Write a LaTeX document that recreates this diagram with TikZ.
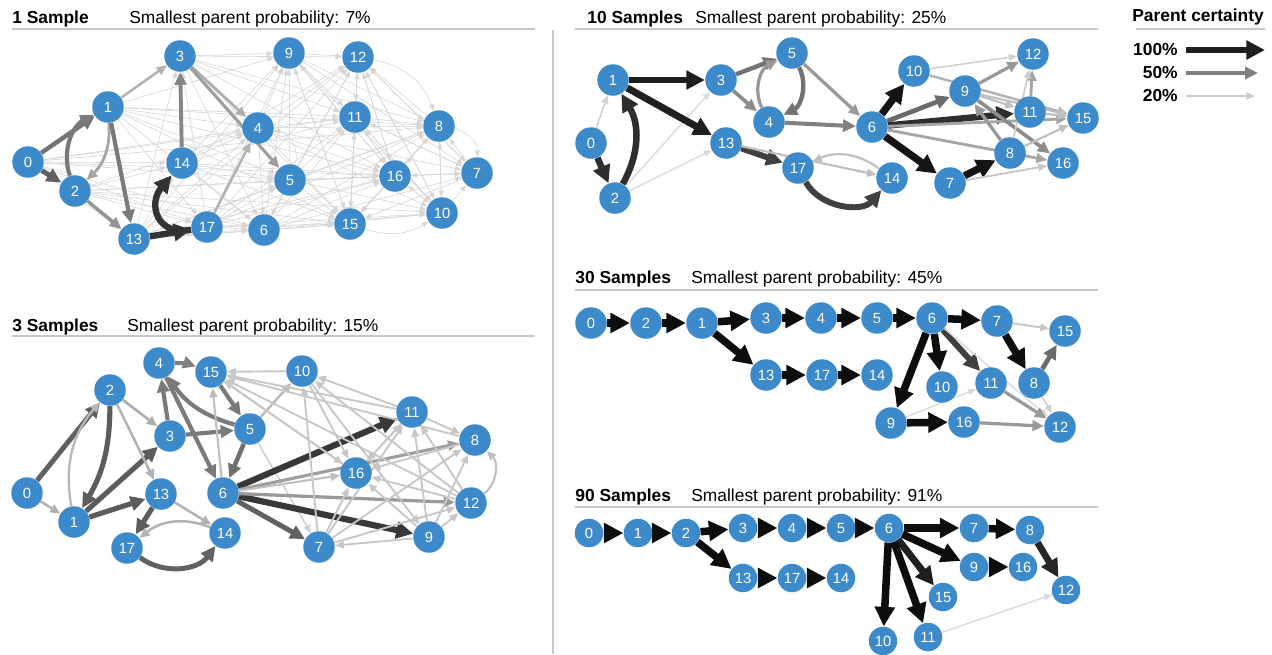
\documentclass[tikz,border=0pt]{standalone}
\usepackage{fontspec}
\setmainfont{Liberation Sans}
\usetikzlibrary{arrows.meta,positioning,backgrounds}
\definecolor{nodeblue}{RGB}{61,138,202}
\definecolor{rulegray}{RGB}{200,200,200}
\tikzset{
  var/.style       = {circle, fill=nodeblue, text=white, inner sep=0pt, minimum size=0.63cm, font=\fontsize{8.4}{9}\selectfont},
  varsmall/.style  = {var, minimum size=0.57cm},
  cert/.style      = {draw=black!#1, line width=0.1pt+0.044pt*#1, -{Triangle[length=3pt 1.9, width=2pt 2.1]}},
  faint/.style     = {draw=black!16, line width=0.35pt, -{Triangle[length=3.6pt, width=2.8pt]}},
  paneltitle/.style = {anchor=base west, inner sep=0pt, font=\fontsize{9.9}{11}\selectfont\bfseries},
  probtext/.style  = {anchor=base west, inner sep=0pt, font=\fontsize{9.9}{11}\selectfont},
  hrule/.style     = {rulegray, line width=0.8pt}
}

\begin{document}
\begin{tikzpicture}[x=0.02cm, y=-0.02cm]
  \useasboundingbox (0,0) rectangle (1272,654);
  % Separator
  \draw[hrule] (553,30) -- (553,654);

  % Headers
  \node[paneltitle] (t1) at (12,23) {1 Sample};
  \node[probtext] (p1) at (129,23) {Smallest parent probability: 7\%};
  \draw[hrule] (12,29) -- (535,29);
  \node[paneltitle] (t3) at (12,331) {3 Samples};
  \node[probtext] (p3) at (127,331) {Smallest parent probability: 15\%};
  \draw[hrule] (12,336) -- (535,336);
  \node[paneltitle] (t10) at (587,23) {10 Samples};
  \node[probtext] (p10) at (695,23) {Smallest parent probability: 25\%};
  \draw[hrule] (575,29) -- (1098,29);
  \node[paneltitle] (t30) at (575,283) {30 Samples};
  \node[probtext] (p30) at (691,283) {Smallest parent probability: 45\%};
  \draw[hrule] (575,290) -- (1098,290);
  \node[paneltitle] (t90) at (575,501) {90 Samples};
  \node[probtext] (p90) at (691,501) {Smallest parent probability: 91\%};
  \draw[hrule] (575,507) -- (1098,507);

  % Legend
  \node[paneltitle] (lt) at (1132,21) {Parent certainty};
  \draw[hrule] (1136,29) -- (1265,29);
  \node[paneltitle, anchor=base east] (l100) at (1178,55) {100\%};
  \node[paneltitle, anchor=base east] (l50) at (1178,78) {50\%};
  \node[paneltitle, anchor=base east] (l20) at (1178,101) {20\%};
  \coordinate (l100a) at (1186,50); \coordinate (l100b) at (1265,50);
  \coordinate (l50a) at (1186,73);  \coordinate (l50b) at (1258,73);
  \coordinate (l20a) at (1186,96);  \coordinate (l20b) at (1255,96);
  \draw[cert=88] (l100a) -- (l100b);
  \draw[cert=50] (l50a) -- (l50b);
  \draw[cert=20] (l20a) -- (l20b);

  % Variables, one set per panel
  \foreach \n/\x/\y in {0/28/162, 1/108/107, 2/75/191, 3/180/56, 4/258/128, 5/290/180,
      6/264/230, 7/477/173, 8/439/126, 9/289/53, 10/442/213, 11/355/117, 12/358/57,
      13/134/239, 14/182/163, 15/350/224, 16/395/176, 17/207/227}
    \node[var] (a\n) at (\x,\y) {\n};
  \foreach \n/\x/\y in {0/27/493, 1/74/522, 2/110/390, 3/170/436, 4/159/363, 5/250/429,
      6/223/493, 7/319/547, 8/475/440, 9/429/537, 10/302/371, 11/412/412, 12/471/503,
      13/161/494, 14/225/533, 15/211/372, 16/356/473, 17/127/548}
    \node[var] (b\n) at (\x,\y) {\n};
  \foreach \n/\x/\y in {0/591/143, 1/613/80, 2/615/198, 3/721/80, 4/769/122, 5/792/53,
      6/872/127, 7/950/183, 8/1010/153, 9/965/91, 10/914/71, 11/1030/112, 12/1033/54,
      13/726/143, 14/892/178, 15/1083/118, 16/1063/163, 17/798/168}
    \node[var] (c\n) at (\x,\y) {\n};
  \foreach \n/\x/\y in {0/591/323, 1/702/323, 2/646/323, 3/766/318, 4/821/318, 5/877/318,
      6/932/318, 7/997/321, 8/1034/383, 9/891/423, 10/942/387, 11/991/383, 12/1060/427,
      13/766/375, 14/877/375, 15/1065/331, 16/964/422, 17/822/375}
    \node[var] (d\n) at (\x,\y) {\n};
  \foreach \n/\x/\y in {0/589/533, 1/638/533, 2/686/533, 3/743/528, 4/792/528, 5/841/528,
      6/889/528, 7/974/528, 8/1030/530, 9/974/567, 10/883/641, 11/928/637, 12/1066/590,
      13/743/578, 14/841/578, 15/943/597, 16/1023/567, 17/792/578}
    \node[varsmall] (e\n) at (\x,\y) {\n};

  \begin{scope}[on background layer]
    % 1 sample: the dense faint web
    \foreach \s/\t in {0/3, 0/4, 0/5, 0/14, 0/17, 0/13, 0/16, 0/11, 0/8, 0/6,
        1/4, 1/5, 1/9, 1/11, 1/16, 1/15, 1/17, 1/6, 1/8,
        2/14, 2/17, 2/5, 2/16, 2/15, 2/6, 2/10, 2/4,
        13/3, 13/4, 13/5, 13/6, 13/9, 13/12, 13/15, 13/16, 13/8, 13/10, 13/14,
        17/3, 17/5, 17/9, 17/12, 17/11, 17/16, 17/15, 17/8, 17/6, 17/10,
        14/4, 14/5, 14/12, 14/9, 14/15, 14/16, 14/11, 14/6,
        3/9, 3/12, 3/11, 3/6, 3/15, 3/16, 3/8,
        4/9, 4/12, 4/11, 4/6, 4/15, 4/16, 4/7, 4/10, 4/8,
        5/9, 5/12, 5/11, 5/6, 5/15, 5/16, 5/8, 5/7, 5/10,
        6/9, 6/12, 6/11, 6/16, 6/15, 6/8, 6/10, 6/7,
        9/12, 9/11, 9/8, 9/16, 9/15, 9/7,
        12/11, 12/16, 12/7, 12/15, 12/10,
        11/8, 11/16, 11/15, 11/10, 11/7,
        16/7, 16/10, 16/15, 16/11, 16/12, 16/9, 16/8,
        15/11, 15/12, 15/8, 15/9,
        10/7, 10/8, 10/16, 10/11, 10/12, 10/9,
        7/16, 7/8, 7/15, 7/12, 7/11,
        8/10, 8/16, 8/15, 8/12}
      \draw[faint] (a\s) -- (a\t);
    \draw[faint] (a12) to[bend left=30] (a8);
    \draw[faint] (a8) to[bend left=40] (a7);
    \draw[faint] (a15) to[bend right=25] (a10);
    \draw[faint] (a5) to[bend right=50] (a4);
    % 1 sample: stronger parents
    \draw[cert=30] (a1) -- (a3);
    \draw[cert=32] (a3) -- (a4);
    \draw[cert=38] (a3) -- (a5);
    \draw[cert=30] (a17) -- (a4);
    \draw[cert=55] (a0) -- (a1);
    \draw[cert=62] (a0) -- (a2);
    \draw[cert=52] (a2) to[bend left=40] (a1);
    \draw[cert=35] (a1) to[bend left=25] (a2);
    \draw[cert=52] (a1) -- (a13);
    \draw[cert=42] (a2) -- (a13);
    \draw[cert=48] (a14) -- (a3);
    \draw[cert=80] (a13) -- (a17);
    \draw[cert=80] (a17) to[out=190, in=230, looseness=1.6] (a14);

    % 3 samples
    \draw[cert=62] (b0) -- (b2);
    \draw[cert=30] (b0) -- (b1);
    \draw[cert=28] (b1) to[bend left=25] (b2);
    \draw[cert=64] (b2) to[bend left=15] (b1);
    \draw[cert=64] (b1) -- (b3);
    \draw[cert=64] (b1) -- (b13);
    \draw[cert=32] (b2) -- (b3);
    \draw[cert=30] (b2) -- (b13);
    \draw[cert=52] (b3) -- (b4);
    \draw[cert=52] (b3) -- (b5);
    \draw[cert=52] (b5) to[bend left=20] (b4);
    \draw[cert=52] (b4) -- (b6);
    \draw[cert=50] (b4) to[bend left=10] (b15);
    \draw[cert=52] (b15) -- (b5);
    \draw[cert=56] (b5) -- (b6);
    \draw[cert=25] (b6) -- (b15);
    \draw[cert=28] (b5) -- (b10);
    \draw[cert=18] (b5) -- (b7);
    \draw[cert=64] (b13) -- (b17);
    \draw[cert=30] (b13) -- (b14);
    \draw[cert=30] (b14) to[bend right=30] (b17);
    \draw[cert=62] (b17) to[bend right=45] (b14);
    \draw[cert=78] (b6) -- (b11);
    \draw[cert=78] (b6) -- (b9);
    \draw[cert=62] (b6) -- (b7);
    \draw[cert=38] (b6) -- (b8);
    \draw[cert=40] (b6) -- (b12);
    \draw[cert=25] (b6) -- (b16);
    \foreach \s/\t in {10/15, 11/15, 11/10, 12/15, 8/15, 11/8, 9/12, 9/8, 9/11, 12/11,
        7/11, 7/16, 7/8, 7/10, 9/7, 9/16, 12/16, 10/16, 10/9, 15/16, 11/16, 16/11,
        12/10, 7/12, 8/16, 16/15}
      \draw[cert=22] (b\s) -- (b\t);
    \draw[cert=25] (b12) to[bend right=50] (b8);

    % 10 samples
    \draw[cert=18] (c0) -- (c1);
    \draw[cert=82] (c0) -- (c2);
    \draw[cert=82] (c2) to[bend right=30] (c1);
    \draw[cert=15] (c2) -- (c3);
    \draw[cert=15] (c2) -- (c13);
    \draw[cert=88] (c1) -- (c3);
    \draw[cert=88] (c1) -- (c13);
    \draw[cert=55] (c3) -- (c5);
    \draw[cert=45] (c3) -- (c4);
    \draw[cert=40] (c4) to[bend left=45] (c5);
    \draw[cert=55] (c5) to[bend left=45] (c4);
    \draw[cert=40] (c5) -- (c6);
    \draw[cert=50] (c4) -- (c6);
    \draw[cert=75] (c13) -- (c17);
    \draw[cert=25] (c13) -- (c14);
    \draw[cert=25] (c14) to[bend right=30] (c17);
    \draw[cert=75] (c17) to[bend right=55] (c14);
    \draw[cert=92] (c6) -- (c10);
    \draw[cert=58] (c6) -- (c9);
    \draw[cert=82] (c6) -- (c11);
    \draw[cert=92] (c6) -- (c7);
    \draw[cert=35] (c6) -- (c15);
    \draw[cert=35] (c6) -- (c16);
    \draw[cert=92] (c7) -- (c8);
    \draw[cert=22] (c7) -- (c16);
    \draw[cert=18] (c10) -- (c12);
    \draw[cert=30] (c10) -- (c15);
    \draw[cert=40] (c9) -- (c12);
    \draw[cert=25] (c9) -- (c15);
    \draw[cert=45] (c9) -- (c16);
    \draw[cert=25] (c9) -- (c11);
    \draw[cert=35] (c11) -- (c12);
    \draw[cert=25] (c11) -- (c15);
    \draw[cert=40] (c8) -- (c9);
    \draw[cert=20] (c8) -- (c12);
    \draw[cert=25] (c8) -- (c15);

    % 30 samples
    \draw[cert=95] (d0) -- (d2);
    \draw[cert=95] (d2) -- (d1);
    \draw[cert=95] (d1) -- (d3);
    \draw[cert=95] (d3) -- (d4);
    \draw[cert=95] (d4) -- (d5);
    \draw[cert=95] (d5) -- (d6);
    \draw[cert=95] (d6) -- (d7);
    \draw[cert=95] (d1) -- (d13);
    \draw[cert=95] (d13) -- (d17);
    \draw[cert=95] (d17) -- (d14);
    \draw[cert=95] (d6) -- (d9);
    \draw[cert=95] (d6) -- (d10);
    \draw[cert=75] (d6) -- (d11);
    \draw[cert=15] (d6) -- (d12);
    \draw[cert=22] (d7) -- (d15);
    \draw[cert=95] (d7) -- (d8);
    \draw[cert=58] (d8) -- (d15);
    \draw[cert=95] (d9) -- (d16);
    \draw[cert=15] (d9) -- (d11);
    \draw[cert=40] (d16) -- (d12);
    \draw[cert=40] (d11) -- (d12);
    \draw[cert=18] (d8) -- (d12);

    % 90 samples
    \draw[cert=95] (e0) -- (e1);
    \draw[cert=95] (e1) -- (e2);
    \draw[cert=95] (e2) -- (e3);
    \draw[cert=95] (e3) -- (e4);
    \draw[cert=95] (e4) -- (e5);
    \draw[cert=95] (e5) -- (e6);
    \draw[cert=95] (e6) -- (e7);
    \draw[cert=95] (e7) -- (e8);
    \draw[cert=95] (e2) -- (e13);
    \draw[cert=95] (e13) -- (e17);
    \draw[cert=95] (e17) -- (e14);
    \draw[cert=95] (e6) -- (e9);
    \draw[cert=95] (e9) -- (e16);
    \draw[cert=85] (e8) -- (e12);
    \draw[cert=88] (e6) -- (e15);
    \draw[cert=95] (e6) -- (e10);
    \draw[cert=95] (e6) -- (e11);
    \draw[cert=15] (e11) -- (e12);
  \end{scope}
\end{tikzpicture}
\end{document}
